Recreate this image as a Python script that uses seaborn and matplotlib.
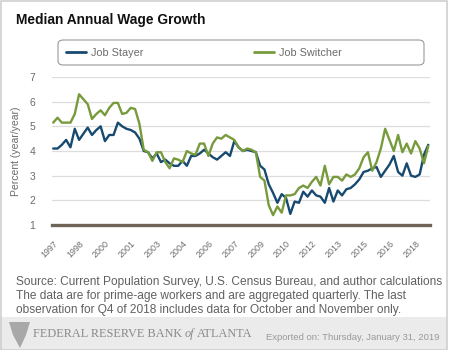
import pandas as pd
import matplotlib.pyplot as plt
import seaborn as sns
from matplotlib.patches import Rectangle, Polygon, FancyBboxPatch
from matplotlib.lines import Line2D

# quarterly series, 1997Q1 - 2018Q4
start_year = 1997
job_stayer = [4.1, 4.1, 4.25, 4.45, 4.15, 4.9, 4.45, 4.7, 4.95, 4.65, 4.85, 5.0,
              4.4, 4.65, 4.65, 5.15, 5.0, 4.9, 4.85, 4.75, 4.5, 4.0, 3.95, 3.7,
              3.9, 3.55, 3.65, 3.5, 3.4, 3.4, 3.6, 3.4, 3.8, 3.8, 3.9, 4.05,
              3.9, 3.75, 3.65, 3.8, 3.95, 3.8, 4.4, 4.15, 4.0, 4.05, 4.0, 3.95,
              3.4, 3.25, 2.65, 2.3, 1.9, 2.25, 2.1, 1.45, 1.95, 1.9, 2.35, 2.15,
              2.4, 2.2, 2.15, 1.9, 2.5, 1.95, 2.4, 2.2, 2.45, 2.5, 2.65, 2.85,
              3.15, 3.2, 3.3, 3.35, 2.95, 3.2, 3.45, 3.8, 3.15, 3.0, 3.5, 3.0,
              2.95, 3.05, 3.85, 4.25]
job_switcher = [5.15, 5.35, 5.15, 5.15, 5.15, 5.5, 6.3, 6.1, 5.9, 5.3, 5.5, 5.65,
                5.45, 5.75, 5.95, 5.95, 5.5, 5.55, 5.75, 5.7, 5.1, 4.05, 3.95, 3.6,
                3.95, 3.95, 3.55, 3.3, 3.7, 3.65, 3.55, 4.0, 3.9, 3.85, 4.3, 4.3,
                3.8, 4.3, 4.55, 4.5, 4.65, 4.55, 4.45, 4.15, 4.0, 4.1, 4.05, 3.95,
                2.95, 2.8, 1.8, 1.4, 1.75, 1.5, 2.2, 2.2, 2.25, 2.5, 2.6, 2.5,
                2.75, 2.95, 2.6, 3.4, 2.65, 2.95, 2.95, 2.8, 3.05, 2.95, 3.05, 3.3,
                3.75, 3.95, 3.2, 3.55, 4.1, 4.9, 4.45, 4.0, 4.65, 3.95, 4.3, 3.9,
                4.4, 4.1, 3.5, 4.2]
tick_years = [1997, 1998.5, 2000, 2001.5, 2003, 2004.5, 2006, 2007.5, 2009,
              2010.5, 2012, 2013.5, 2015, 2016.5, 2018]
series_names = ['Job Stayer', 'Job Switcher']
colors = ['#174a70', '#779b3c']

n = len(job_stayer)
years = [start_year + i / 4 for i in range(n)]
df = pd.DataFrame({
    'year': years + years,
    'value': job_stayer + job_switcher,
    'series': [series_names[0]] * n + [series_names[1]] * n,
})

sns.set_style('white')
plt.rcParams['font.family'] = ['Liberation Sans', 'DejaVu Sans']

fig = plt.figure(figsize=(4.5, 3.5), dpi=100)
ax = fig.add_axes([52 / 450, 1 - 225 / 350, 378 / 450, 148 / 350])

sns.lineplot(data=df, x='year', y='value', hue='series', palette=colors,
             linewidth=1.7, ax=ax, legend=False)

gray = '#6b6b6b'
ax.set_xlim(1996.93, 2018.85)
ax.set_ylim(1, 7)
ax.set_yticks(range(1, 8))
ax.yaxis.grid(True, color='#dddddd', linewidth=0.9)
ax.set_axisbelow(True)
for s in ['top', 'right', 'left']:
    ax.spines[s].set_visible(False)
ax.spines['bottom'].set_color('#6e6558')
ax.spines['bottom'].set_linewidth(2.4)
ax.tick_params(axis='y', length=0, labelsize=7.5, labelcolor=gray, pad=12)
ax.set_xticks(tick_years)
ax.set_xticklabels([str(int(y)) for y in tick_years])
ax.tick_params(axis='x', length=6, width=1, color='#c4d2e4', labelsize=6.4,
               labelcolor=gray, pad=4)
for lab in ax.get_xticklabels():
    lab.set_rotation(45)
    lab.set_ha('right')
    lab.set_va('top')
    lab.set_rotation_mode('anchor')
ax.set_xlabel('')
ax.set_ylabel('Percent (year/year)', color=gray, fontsize=7.5, labelpad=6)

# legend box + entries
fig.patches.append(FancyBboxPatch((58 / 450, 1 - 65 / 350), 366 / 450, 25 / 350,
                                  boxstyle='round,pad=0,rounding_size=0.012',
                                  transform=fig.transFigure, facecolor='white',
                                  edgecolor='#999999', linewidth=0.8))
handles = [Line2D([], [], color=c, linewidth=2) for c in colors]
leg = fig.legend(handles, series_names, loc='center left', ncol=2,
                 bbox_to_anchor=(62 / 450, 1 - 52.5 / 350),
                 fontsize=7.8, handlelength=1.8, handletextpad=0.5,
                 columnspacing=10.2, borderaxespad=0, frameon=False)
for t in leg.get_texts():
    t.set_color(gray)

fig.text(16 / 450, 1 - 20 / 350, 'Median Annual Wage Growth', fontsize=9.9,
         fontweight='bold', color='#111111', va='center')

notes = ['Source: Current Population Survey, U.S. Census Bureau, and author calculations',
         'The data are for prime-age workers and are aggregated quarterly. The last',
         'observation for Q4 of 2018 includes data for October and November only.']
for i, line in enumerate(notes):
    fig.text(16 / 450, 1 - (282 + 14 * i) / 350, line, fontsize=8.6,
             color='#606060', va='center')

# footer band
fig.patches.append(Rectangle((0, 0), 447 / 450, 33 / 350, transform=fig.transFigure,
                             facecolor='#ebebeb', edgecolor='none', zorder=0))
fig.patches.append(Polygon([(9 / 450, 1 - 322 / 350), (30 / 450, 1 - 322 / 350),
                            (26 / 450, 1 - 335 / 350), (20 / 450, 1 - 348 / 350),
                            (13 / 450, 1 - 335 / 350)], closed=True,
                           transform=fig.transFigure, facecolor='#a8a8a8',
                           edgecolor='none'))
fig.text(33 / 450, 1 - 334 / 350, 'FEDERAL RESERVE BANK', family='Liberation Serif',
         fontsize=8.8, color='#8a8a8a', va='center')
fig.text(185 / 450, 1 - 334 / 350, 'of', family='Liberation Serif', style='italic',
         fontsize=8.8, color='#8a8a8a', va='center')
fig.text(197 / 450, 1 - 334 / 350, 'ATLANTA', family='Liberation Serif',
         fontsize=8.8, color='#8a8a8a', va='center')
fig.text(440 / 450, 1 - 337 / 350, 'Exported on: Thursday, January 31, 2019',
         fontsize=6.8, color='#9a9a9a', va='center', ha='right')

# outer frame
fig.patches.append(Rectangle((0.5 / 450, 0), 446.5 / 450, 349.5 / 350,
                             transform=fig.transFigure, facecolor='none',
                             edgecolor='#cfcfcf', linewidth=1.2))

fig.savefig('out.png', dpi=100)
